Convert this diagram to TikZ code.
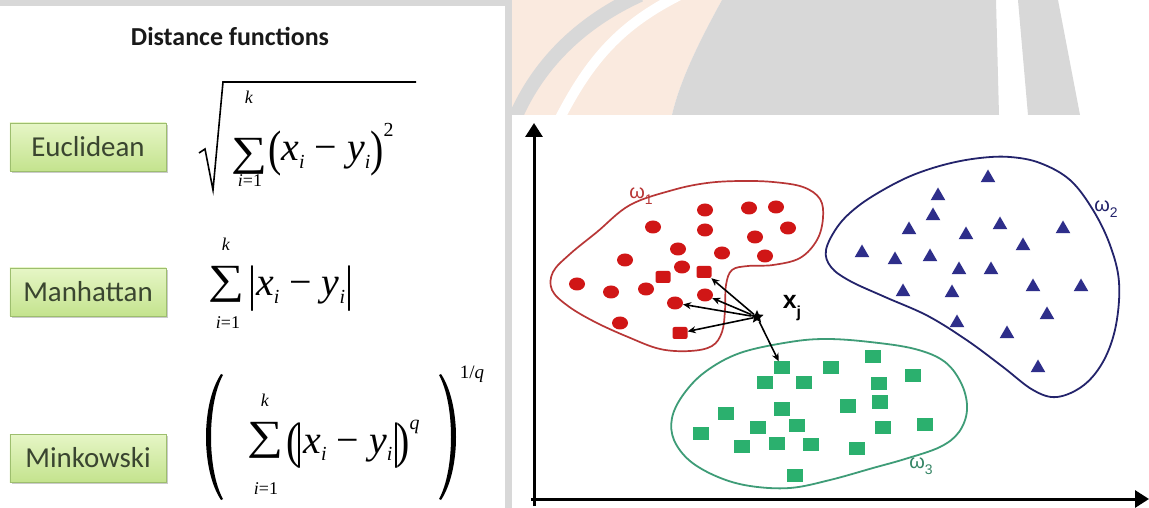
\documentclass[tikz,border=0pt]{standalone}
\usepackage{fontspec}
\usepackage{graphicx}
\usetikzlibrary{arrows.meta,shapes.geometric,shadows}
\newfontfamily\calib{Carlito}
\newfontfamily\tms{Liberation Serif}
\newfontfamily\arl{Liberation Sans}
\newcommand\fs[1]{\fontsize{#1}{#1}\selectfont}
\newcommand\sbi{\raisebox{-0.2em}{\fs{20}\textit{i}}}
\newcommand\tall[1]{\raisebox{-0.12em}{\scalebox{1}[1.25]{#1}}}
\newcommand\msp{\hspace{0.25em}}
\definecolor{wmgray}{HTML}{D8D8D8}
\definecolor{peach}{HTML}{FAEADF}
\definecolor{boxtop}{HTML}{E6F6C6}
\definecolor{boxbot}{HTML}{C4E38E}
\definecolor{boxborder}{HTML}{9DBE6E}
\definecolor{boxtext}{HTML}{3A4530}
\definecolor{redfill}{HTML}{D01616}
\definecolor{redline}{HTML}{B83636}
\definecolor{bluefill}{HTML}{2E2E8A}
\definecolor{blueline}{HTML}{23236B}
\definecolor{greenfill}{HTML}{2BB06E}
\definecolor{greenline}{HTML}{3E9C77}
\tikzset{
  fbox/.style={draw=boxborder, line width=0.8bp, top color=boxtop, bottom color=boxbot,
    minimum width=156bp, minimum height=48bp, inner sep=0,
    font=\calib\fs{29}, text=boxtext,
    drop shadow={shadow xshift=2bp, shadow yshift=-2bp, fill=black!40, opacity=0.5}},
  lim/.style={inner sep=0, font=\tms\fs{18}},
  sumn/.style={inner sep=0},
  body/.style={anchor=base west, inner sep=0, font=\tms\fs{40}},
  axis/.style={line width=3bp, -{Triangle[width=17bp,length=14bp]}},
  ptr/.style={line width=1.6bp, -{Stealth[length=8bp,width=7bp]}},
  rdot/.style={ellipse, fill=redfill, minimum width=16bp, minimum height=13bp, inner sep=0},
  rsq/.style={rectangle, rounded corners=2bp, fill=redfill, minimum width=15bp, minimum height=12bp, inner sep=0},
  btri/.style={regular polygon, regular polygon sides=3, fill=bluefill, minimum size=17bp, inner sep=0},
  gsq/.style={rectangle, fill=greenfill, minimum width=16bp, minimum height=13bp, inner sep=0},
  clab/.style={inner sep=0, font=\arl\fs{20}},
}
\newcommand\bigsum[2]{\resizebox*{#1bp}{#2bp}{\tms ∑}}
\begin{document}
\begin{tikzpicture}[x=1bp,y=-1bp]
\useasboundingbox (0,0) rectangle (1149,508);
% background and watermark
\fill[white] (0,0) rectangle (1149,508);
\fill[peach] (505,0) -- (722,0) .. controls (700,40) and (680,80) .. (672,115) -- (505,115) -- cycle;
\draw[wmgray, line width=14bp] (515,118) .. controls (540,60) and (585,20) .. (640,-5);
\draw[white, line width=10bp] (560,118) .. controls (590,60) and (620,25) .. (680,-5);
\fill[wmgray] (722,0) .. controls (700,40) and (680,80) .. (672,115) -- (999,115) -- (996,0) -- cycle;
\fill[wmgray] (1018,0) -- (1058,0) -- (1080,115) -- (1028,115) -- cycle;
\fill[wmgray] (0,0) rectangle (505,6);
\fill[wmgray] (505,0) rectangle (512,508);
\fill[white] (512,115) rectangle (1149,508);

% left panel
\node[inner sep=0, font=\calib\bfseries\fs{26}, text=black!90] (title) at (230,36) {Distance functions};
\node[fbox] (euc) at (88,147) {Euclidean};
\node[fbox] (man) at (88,292) {Manhattan};
\node[fbox] (min) at (88,458) {Minkowski};

% Euclidean formula
\draw[line width=1.6bp, line join=miter] (199,153) -- (205,149) -- (213,190) -- (223,82) -- (416,82);
\node[sumn] (esum) at (249,156) {\bigsum{36}{36}};
\node[lim] (ek) at (249,97) {\textit{k}};
\node[lim] (ei) at (250,181) {\textit{i}=1};
\node[body] (ebody) at (268,161)
  {\tall{(}\textit{x}\sbi\msp−\msp\textit{y}\sbi\tall{)}\raisebox{0.62em}{\fs{20}2}};

% Manhattan formula
\node[sumn] (msum) at (226,284) {\bigsum{36}{36}};
\node[lim] (mk) at (226,244) {\textit{k}};
\node[lim] (mi) at (228,323) {\textit{i}=1};
\node[body] (mbody) at (248,296)
  {\tall{|}\textit{x}\sbi\msp−\msp\textit{y}\sbi\tall{|}};

% Minkowski formula
\fill (221,374) .. controls (201,404) and (201,470) .. (221,500) -- (223,499)
  .. controls (207,470) and (207,404) .. (223,375) -- cycle;
\fill (441,374) .. controls (461,404) and (461,470) .. (441,500) -- (439,499)
  .. controls (455,470) and (455,404) .. (439,375) -- cycle;
\node[sumn] (ksum) at (265,440) {\bigsum{36}{36}};
\node[lim] (kk) at (265,400) {\textit{k}};
\node[lim] (ki) at (266,489) {\textit{i}=1};
\node[body] (kbody) at (286,453)
  {\tall{(}\hspace{-0.1em}\tall{|}\textit{x}\sbi\msp−\msp\textit{y}\sbi\tall{|}\hspace{-0.1em}\tall{)}\raisebox{0.6em}{\fs{20}\textit{q}}};
\node[inner sep=0, font=\tms\fs{19}] (kexp) at (472,374) {1/\textit{q}};

% axes
\coordinate (O) at (534,499);
\coordinate (ytop) at (534,123);
\coordinate (xend) at (1149,499);
\draw[axis] (534,506) -- (ytop);
\draw[axis] (531,499) -- (xend);

% cluster outlines
\draw[redline, line width=1.7bp] plot[smooth cycle, tension=0.6] coordinates {
 (630,205) (673,190) (707,183) (740,181) (773,182) (803,187) (820,199) (823,218) (817,240)
 (800,258) (773,265) (748,266) (732,270) (726,285) (725,310) (722,332) (712,346) (690,351)
 (660,349) (628,337) (595,322) (568,306) (552,290) (553,272) (570,254) (597,232)};
\draw[blueline, line width=1.8bp] plot[smooth cycle, tension=0.6] coordinates {
 (826,250) (838,226) (857,207) (883,190) (913,175) (947,164) (980,158) (1010,157) (1040,163)
 (1070,180) (1093,210) (1110,245) (1119,282) (1116,325) (1104,360) (1084,385) (1057,397)
 (1033,390) (1003,367) (968,341) (928,316) (885,297) (850,281) (831,267)};
\draw[greenline, line width=1.8bp] plot[smooth cycle, tension=0.6] coordinates {
 (790,342) (827,339) (870,342) (915,349) (945,362) (962,385) (967,410) (959,432) (940,447)
 (905,459) (873,468) (830,480) (790,488) (750,486) (718,477) (690,461) (674,440) (672,418)
 (683,395) (705,372) (740,353)};

% red points
\foreach \p/\q [count=\n] in {705/210, 749/208, 776/207, 653/227, 705/230, 788/228, 755/237,
  678/249, 722/253, 765/256, 625/260, 682/267, 577/284, 611/292, 646/289, 620/323}
  {\node[rdot] (r\n) at (\p,\q) {};}
\node[rsq] (rA) at (704,272) {};
\node[rsq] (rS) at (663,277) {};
\node[rdot] (rB) at (705,295) {};
\node[rdot] (rC) at (675,303) {};
\node[rsq] (rD) at (680,333) {};

% blue points
\foreach \p/\q [count=\n] in {988/178, 938/196, 933/216, 909/230, 1000/225, 966/235, 1063/229,
  1023/246, 862/253, 895/260, 930/257, 959/270, 991/270, 903/292, 952/293, 1033/287, 1081/287,
  1047/315, 957/323, 1007/334, 1038/368}
  {\node[btri] (b\n) at (\p,\q) {};}

% green points
\node[gsq] (gA) at (782,368) {};
\foreach \p/\q [count=\n] in {831/368, 873/357, 765/383, 804/383, 879/384, 913/376, 880/402,
  848/406, 782/409, 726/413, 701/433, 758/427, 797/425, 883/427, 925/424, 742/446, 777/443,
  811/444, 857/448, 795/475}
  {\node[gsq] (g\n) at (\p,\q) {};}

% labels
\node[clab, text=redline] (w1) at (641,196) {ω\raisebox{-0.3em}{\fs{14}1}};
\node[clab, text=blueline] (w2) at (1106,209) {ω\raisebox{-0.3em}{\fs{14}2}};
\node[clab, text=greenline!85!black] (w3) at (921,466) {ω\raisebox{-0.3em}{\fs{14}3}};

% query point and connectors
\node[star, star points=5, star point ratio=2.2, fill=black, minimum size=14bp, inner sep=0] (xj) at (757,317) {};
\node[inner sep=0, font=\arl\bfseries\fs{25}] (xjl) at (792,308) {x\raisebox{-0.35em}{\fs{16}j}};
\draw[ptr] (xj) -- (rA);
\draw[ptr] (xj) -- (rB);
\draw[ptr] (xj) -- (rC);
\draw[ptr] (xj) -- (rD);
\draw[ptr] (xj) -- (gA);
\end{tikzpicture}
\end{document}
